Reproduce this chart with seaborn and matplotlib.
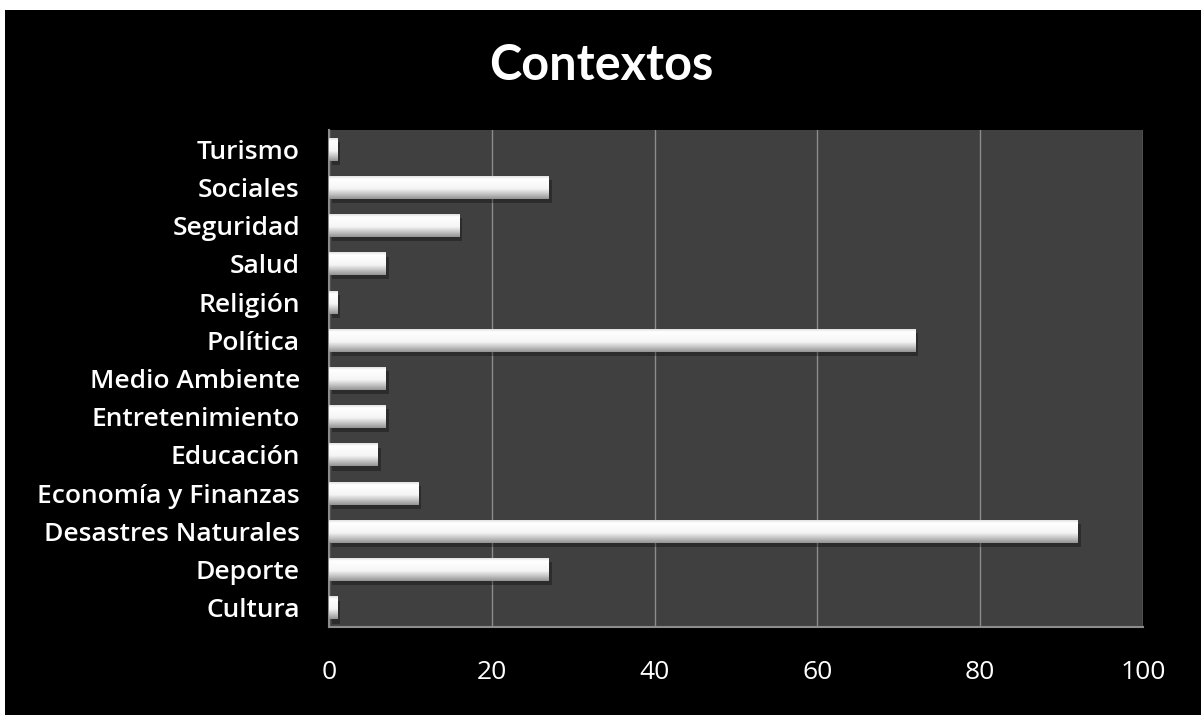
import numpy as np
import matplotlib
matplotlib.use("Agg")
import matplotlib.pyplot as plt
import matplotlib.patheffects as pe
from matplotlib.patches import Rectangle
import seaborn as sns

categories = ["Turismo", "Sociales", "Seguridad", "Salud", "Religión", "Política",
              "Medio Ambiente", "Entretenimiento", "Educación", "Economía y Finanzas",
              "Desastres Naturales", "Deporte", "Cultura"]
values = [1, 27, 16, 7, 1, 72, 7, 7, 6, 11, 92, 27, 1]
xticks = [0, 20, 40, 60, 80, 100]
title = "Contextos"

sns.set_theme(style="dark")
plt.rcParams["font.family"] = ["Lato", "DejaVu Sans"]

fig = plt.figure(figsize=(12.01, 7.15), dpi=100, facecolor="white")
fig.patches.append(Rectangle((5 / 1201, 0), 1 - 5 / 1201, 705 / 715,
                             transform=fig.transFigure, facecolor="black",
                             edgecolor="none", zorder=-10))
ax = fig.add_axes([329 / 1201, 1 - 627 / 715, (1143 - 329) / 1201, (627 - 130) / 715])
ax.set_zorder(1)
ax.set_facecolor("#404040")

sns.barplot(x=values, y=categories, orient="h", color="white", width=0.6,
            ax=ax, saturation=1, edgecolor="none", zorder=3)

grad = np.linspace(0, 1, 64)
col = np.interp(grad, [0, 0.12, 0.55, 0.75, 1.0], [0.88, 1.0, 0.96, 0.80, 0.58])
img = np.stack([col, col, col], axis=-1)[:, None, :].repeat(2, axis=1)

xlim = (0, 100)
ylim = ax.get_ylim()
for p in list(ax.patches):
    p.set_path_effects([pe.SimplePatchShadow(offset=(2, -3), shadow_rgbFace="black", alpha=0.3),
                        pe.Normal()])
    x0, y0, w, h = p.get_x(), p.get_y(), p.get_width(), p.get_height()
    im = ax.imshow(img, extent=(x0, x0 + w, y0 + h, y0), origin="upper",
                   aspect="auto", zorder=4, interpolation="bilinear")
    im.set_clip_path(p)
ax.set_xlim(*xlim)
ax.set_ylim(*ylim)

ax.set_xticks(xticks)
ax.set_xticklabels([str(t) for t in xticks])
ax.xaxis.grid(True, color="#8c8c8c", linewidth=1, zorder=1)
ax.yaxis.grid(False)
ax.set_axisbelow(True)
ax.tick_params(axis="both", length=0, colors="white")
ax.tick_params(axis="y", pad=21, labelsize=19)
ax.tick_params(axis="x", pad=24, labelsize=19)
for lab in ax.get_yticklabels() + ax.get_xticklabels():
    lab.set_fontfamily(["Open Sans", "DejaVu Sans"])
for lab in ax.get_yticklabels():
    lab.set_fontweight("semibold")
ax.set_xlabel("")
ax.set_ylabel("")
for s in ["top", "right"]:
    ax.spines[s].set_visible(False)
for s in ["left", "bottom"]:
    ax.spines[s].set_visible(True)
    ax.spines[s].set_color("#8c8c8c")
    ax.spines[s].set_linewidth(1.5)

fig.text(0.5 + 1 / 1201, 1 - 66 / 715, title, ha="center", va="center",
         color="white", fontsize=35, fontweight="bold")

fig.savefig("out.png", dpi=100, facecolor=fig.get_facecolor())
